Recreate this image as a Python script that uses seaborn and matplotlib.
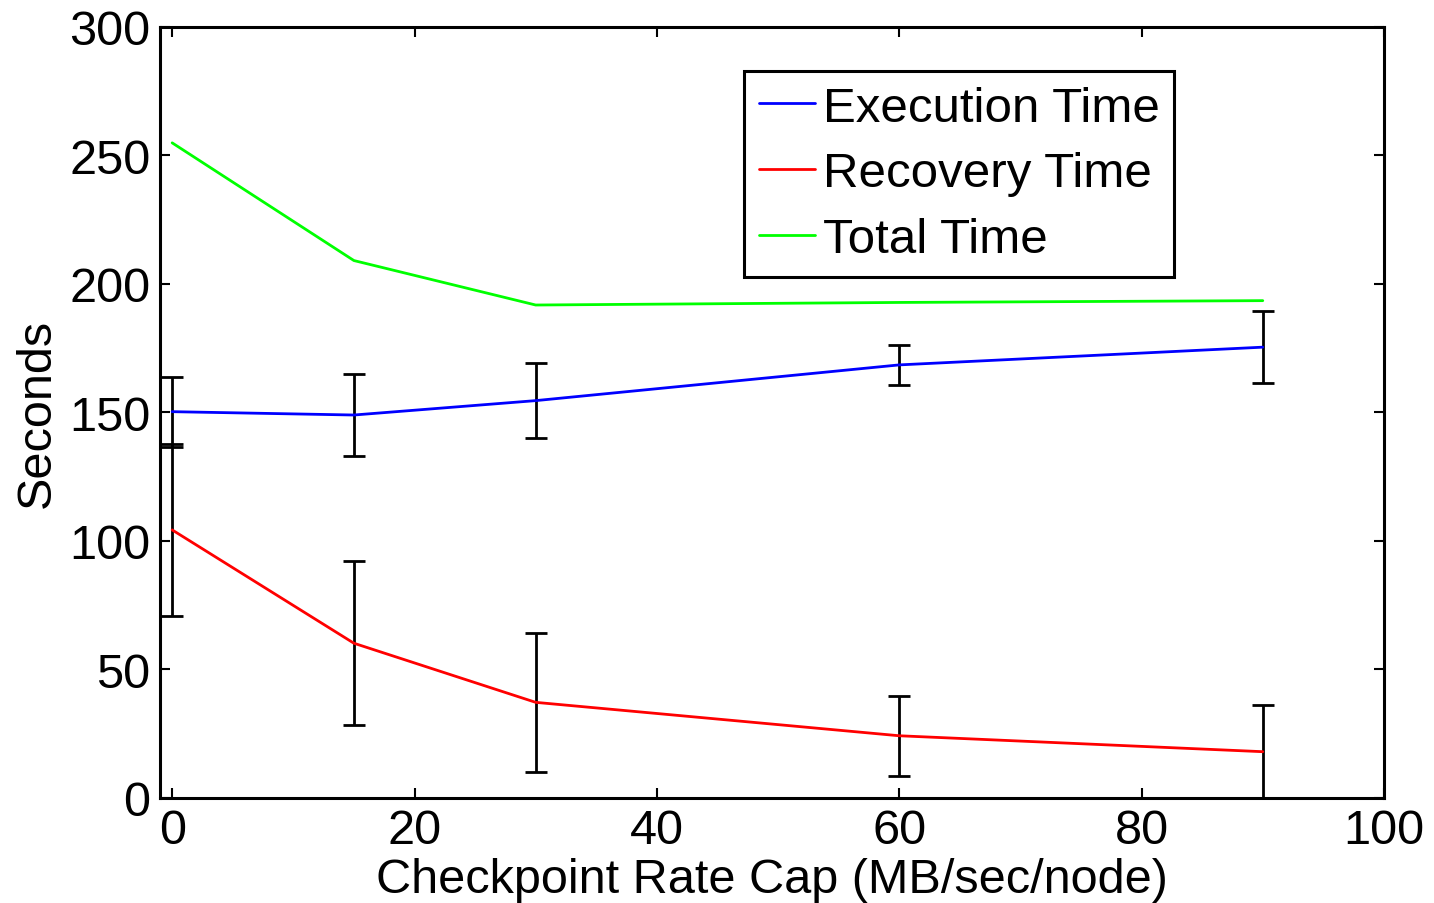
import numpy as np
import pandas as pd
import matplotlib
matplotlib.use("Agg")
import matplotlib.pyplot as plt
import seaborn as sns

# Checkpoint rate caps (MB/sec/node)
rate_cap = [0, 15, 30, 60, 90]

# Mean times in seconds
execution_time = [150.3, 149.0, 154.6, 168.5, 175.4]
recovery_time = [104.3, 60.2, 37.2, 24.2, 18.0]
total_time = [254.9, 209.1, 191.8, 192.8, 193.5]

# Half-widths of the error bars (seconds)
execution_err = [13.6, 15.9, 14.5, 7.8, 14.1]
recovery_err = [33.4, 32.0, 27.0, 15.5, 18.3]

series_names = ["Execution Time", "Recovery Time", "Total Time"]
series_colors = ["#0000ff", "#ff0000", "#00ff00"]

x_ticks = [0, 20, 40, 60, 80, 100]
y_ticks = [0, 50, 100, 150, 200, 250, 300]

sns.set_style("ticks")
plt.rcParams["font.family"] = ["Liberation Sans", "DejaVu Sans"]
plt.rcParams["text.color"] = "black"
plt.rcParams["axes.labelcolor"] = "black"
plt.rcParams["xtick.color"] = "black"
plt.rcParams["ytick.color"] = "black"
plt.rcParams["xtick.direction"] = "in"
plt.rcParams["ytick.direction"] = "in"

df = pd.DataFrame({
    "rate": rate_cap * 3,
    "seconds": execution_time + recovery_time + total_time,
    "series": [series_names[0]] * 5 + [series_names[1]] * 5 + [series_names[2]] * 5,
})

fig = plt.figure(figsize=(14.34, 9.04), dpi=100)
ax = fig.add_axes([0.1116, 0.1162, 0.8535, 0.8529])

sns.lineplot(data=df, x="rate", y="seconds", hue="series", hue_order=series_names,
             palette=series_colors, linewidth=2.0, ax=ax, legend=True, zorder=3)

for means, errs in [(execution_time, execution_err), (recovery_time, recovery_err)]:
    ax.errorbar(rate_cap, means, yerr=errs, fmt="none", ecolor="black",
                elinewidth=2.0, capsize=8, capthick=2.0, zorder=2)

ax.set_xlim(-1, 100)
ax.set_ylim(0, 300)
ax.set_xticks(x_ticks)
ax.set_yticks(y_ticks)
ax.tick_params(axis="both", which="both", direction="in", length=7, width=1.5,
               labelsize=35, top=True, right=True, pad=7, colors="black",
               labelcolor="black")
for side in ["left", "right", "top", "bottom"]:
    ax.spines[side].set_visible(True)
    ax.spines[side].set_linewidth(2.2)
    ax.spines[side].set_color("black")

ax.set_xlabel("Checkpoint Rate Cap (MB/sec/node)", fontsize=35, labelpad=3,
              color="black")
ax.set_ylabel("Seconds", fontsize=35, labelpad=7, color="black")

handles = ax.get_legend().legend_handles
leg = ax.legend(handles=handles, labels=series_names, loc="upper left",
                bbox_to_anchor=(0.477, 0.943), borderaxespad=0, fontsize=35.5,
                frameon=True, fancybox=False, handlelength=1.15,
                handletextpad=0.15, labelspacing=0.42, borderpad=0.3)
leg.get_frame().set_edgecolor("black")
leg.get_frame().set_linewidth(2.2)
leg.get_frame().set_alpha(1.0)
for line in leg.get_lines():
    line.set_linewidth(2.0)
for txt in leg.get_texts():
    txt.set_color("black")

fig.savefig("out.png", dpi=100)
